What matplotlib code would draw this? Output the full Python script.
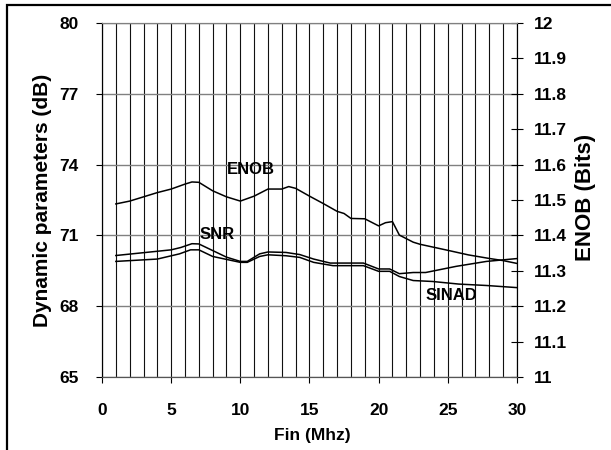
import matplotlib
matplotlib.use("Agg")
import matplotlib.pyplot as plt
from matplotlib.patches import Rectangle
from matplotlib.ticker import MultipleLocator

plt.rcParams["font.family"] = ["Liberation Sans", "DejaVu Sans"]

# values
fin_snr = [1, 5, 5.7, 6.5, 7, 8, 9, 10, 10.5, 11.4, 12, 13.3, 14.3, 15.3, 16.5,
           18.9, 20, 20.8, 21.5, 22.5, 23.4, 25.6, 27.8, 30]
snr = [70.15, 70.39, 70.49, 70.65, 70.64, 70.36, 70.08, 69.90, 69.90, 70.22, 70.30,
       70.28, 70.19, 70.00, 69.83, 69.83, 69.58, 69.58, 69.38, 69.43, 69.43, 69.69,
       69.90, 70.02]

fin_sinad = [1, 4, 5.6, 6.4, 7, 8, 10, 10.5, 11.4, 12, 13.3, 14.3, 15.3, 16.7,
             18.9, 20, 20.8, 21.5, 22.5, 23.9, 25.8, 27.8, 30]
sinad = [69.90, 70.00, 70.22, 70.39, 70.39, 70.11, 69.86, 69.86, 70.11, 70.18, 70.14,
         70.07, 69.86, 69.72, 69.72, 69.48, 69.48, 69.26, 69.09, 69.05, 68.94, 68.88,
         68.79]

fin_enob = [1, 2, 3, 4, 5, 6, 6.5, 7, 8, 9, 10, 11, 12, 13, 13.5, 14, 15, 16, 17,
            17.5, 18, 19, 20, 20.5, 21, 21.5, 22.5, 23, 25, 26.5, 28, 29, 30]
enob = [11.489, 11.497, 11.509, 11.521, 11.531, 11.545, 11.551, 11.550, 11.526,
        11.509, 11.497, 11.511, 11.531, 11.531, 11.538, 11.533, 11.511, 11.490,
        11.468, 11.462, 11.448, 11.447, 11.427, 11.436, 11.439, 11.401, 11.381,
        11.375, 11.358, 11.345, 11.335, 11.329, 11.321]

db_ticks = [65, 68, 71, 74, 77, 80]
enob_ticks = [11, 11.1, 11.2, 11.3, 11.4, 11.5, 11.6, 11.7, 11.8, 11.9, 12]
enob_labels = ["11", "11.1", "11.2", "11.3", "11.4", "11.5", "11.6", "11.7",
               "11.8", "11.9", "12"]
x_ticks = [0, 5, 10, 15, 20, 25, 30]

fig = plt.figure(figsize=(6.11, 4.5), dpi=100)
ax = fig.add_axes([0.167, 0.162, 0.679, 0.787])
ax2 = ax.twinx()

ax.plot(fin_snr, snr, color="black", lw=1.1)
ax.plot(fin_sinad, sinad, color="black", lw=1.1)
ax2.plot(fin_enob, enob, color="black", lw=1.1)

ax.set_xlim(0, 30)
ax.set_ylim(65, 80)
ax2.set_ylim(11, 12)

ax.set_xticks(x_ticks)
ax.xaxis.set_minor_locator(MultipleLocator(1))
ax.set_yticks(db_ticks)
ax2.set_yticks(enob_ticks)
ax2.set_yticklabels(enob_labels)

ax.grid(which="minor", axis="x", color="#111111", lw=0.8)
ax.grid(which="major", axis="x", color="#111111", lw=0.8)
ax.grid(which="major", axis="y", color="#808080", lw=1.0)
ax.set_axisbelow(True)

ax.tick_params(axis="x", which="major", direction="out", length=4, width=0.8,
               pad=14.5, labelsize=12.5)
ax.tick_params(axis="x", which="minor", length=0)
ax.tick_params(axis="y", direction="out", length=4, width=0.8, pad=13, labelsize=12.5)
ax2.tick_params(axis="y", direction="inout", length=8, width=0.8, pad=8, labelsize=12.5)
for lab in ax.get_xticklabels() + ax.get_yticklabels() + ax2.get_yticklabels():
    lab.set_fontweight("bold")

for a in (ax, ax2):
    a.spines["top"].set_color("#808080")
    a.spines["bottom"].set_color("#555555")
    a.spines["left"].set_color("black")
    a.spines["right"].set_color("black")

ax.set_xlabel("Fin (Mhz)", fontsize=12.5, fontweight="bold")
ax.xaxis.set_label_coords(0.507, -0.145)
ax.set_ylabel("Dynamic parameters (dB)", fontsize=15, fontweight="bold")
ax.yaxis.set_label_coords(-0.12, 0.5)
ax2.set_ylabel("ENOB (Bits)", fontsize=16, fontweight="bold")
ax2.yaxis.set_label_coords(1.14, 0.507)

ax.text(10.77, 73.78, "ENOB", ha="center", va="center", fontsize=12, fontweight="bold")
ax.text(8.29, 71.02, "SNR", ha="center", va="center", fontsize=12, fontweight="bold")
ax.text(25.28, 68.47, "SINAD", ha="center", va="center", fontsize=12, fontweight="bold")

# outer frame, partly cut off by the picture edges
fig.patches.append(Rectangle((7 / 611, -0.2), 1.2, 1.2 - 5 / 450,
                             transform=fig.transFigure, fill=False,
                             edgecolor="black", lw=1.6))

fig.savefig("out.png", dpi=100)
